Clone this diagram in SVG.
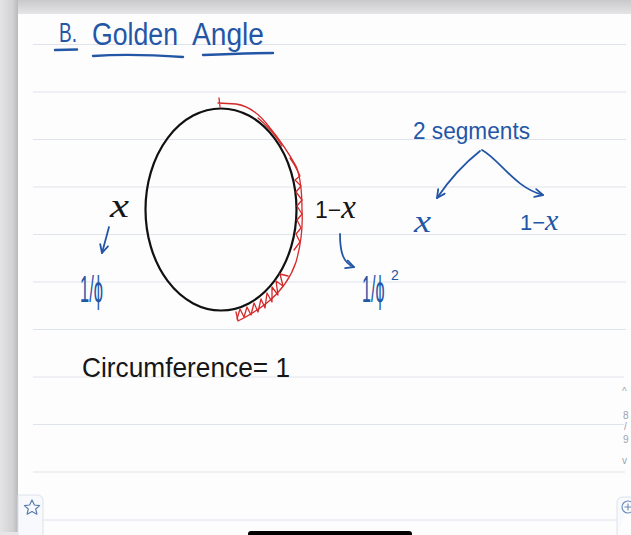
<svg xmlns="http://www.w3.org/2000/svg" width="631" height="535" viewBox="0 0 631 535">
  <defs>
    <linearGradient id="topShade" x1="0" y1="0" x2="0" y2="1">
      <stop offset="0" stop-color="#c9c9cb"/>
      <stop offset="1" stop-color="#e9e9eb"/>
    </linearGradient>
    <linearGradient id="leftShade" x1="0" y1="0" x2="1" y2="0">
      <stop offset="0" stop-color="#e4e4e6"/>
      <stop offset="0.7" stop-color="#d2d2d4"/>
      <stop offset="1" stop-color="#b9b9bc"/>
    </linearGradient>
    <marker id="ah" viewBox="0 0 10 10" refX="9" refY="5" markerWidth="10" markerHeight="10" markerUnits="userSpaceOnUse" orient="auto">
      <path d="M1,1 L9,5 L1,9" fill="none" stroke="#2456a6" stroke-width="1.8" stroke-linecap="round" stroke-linejoin="round"/>
    </marker>
  </defs>
  <style>
    .rule { stroke: #dfe3ea; stroke-width: 1.2; }
    .ink-blue { fill: #2456a6; font-family: "Liberation Sans", "DejaVu Sans", sans-serif; }
    .ink-black { fill: #161616; font-family: "Liberation Sans", "DejaVu Sans", sans-serif; }
    .mathx { font-family: "Liberation Serif", "DejaVu Serif", serif; font-style: italic; }
    .uline { stroke: #2456a6; stroke-width: 2.4; fill: none; stroke-linecap: round; }
    .conn { stroke: #2456a6; stroke-width: 1.8; fill: none; stroke-linecap: round; marker-end: url(#ah); }
    .red { stroke: #d52a2a; stroke-width: 1.3; fill: none; stroke-linejoin: round; stroke-linecap: round; }
    .ui { fill: #f7f9fc; stroke: #dde2ea; stroke-width: 1; }
    .uitext { fill: #9aa3b0; font-family: "Liberation Sans", sans-serif; font-size: 10px; }
  </style>

  <!-- background & page -->
  <rect x="0" y="0" width="631" height="535" fill="#e6e6e8"/>
  <rect x="0" y="0" width="631" height="16" fill="url(#topShade)"/>
  <rect x="0" y="0" width="18" height="532" fill="url(#leftShade)"/>
  <rect x="18" y="14" width="613" height="521" fill="#fdfdfe"/>

  <!-- ruled lines -->
  <g id="rules">
    <line class="rule" x1="33" y1="44.5" x2="626" y2="44.5"/>
    <line class="rule" x1="33" y1="92" x2="626" y2="92"/>
    <line class="rule" x1="33" y1="139.5" x2="626" y2="139.5"/>
    <line class="rule" x1="33" y1="187" x2="626" y2="187"/>
    <line class="rule" x1="33" y1="234.5" x2="626" y2="234.5"/>
    <line class="rule" x1="33" y1="282" x2="626" y2="282"/>
    <line class="rule" x1="33" y1="329.5" x2="626" y2="329.5"/>
    <line class="rule" x1="33" y1="377" x2="624" y2="377"/>
    <line class="rule" x1="33" y1="424.5" x2="624" y2="424.5"/>
    <line class="rule" x1="33" y1="472" x2="625" y2="472"/>
  </g>

  <!-- title -->
  <g id="title">
    <text class="ink-blue" x="59" y="42" font-size="28" textLength="18" lengthAdjust="spacingAndGlyphs">B.</text>
    <text class="ink-blue" x="92" y="45" font-size="31" textLength="86" lengthAdjust="spacingAndGlyphs">Golden</text>
    <text class="ink-blue" x="192" y="45" font-size="31" textLength="72" lengthAdjust="spacingAndGlyphs">Angle</text>
    <path class="uline" d="M55,50 L77,49.5"/>
    <path class="uline" d="M93,56 C120,54 155,55 183,57"/>
    <path class="uline" d="M203,55 C225,54 250,53 273,53"/>
  </g>

  <!-- circle with red arc -->
  <g id="circle">
    <ellipse cx="221" cy="209.5" rx="75.5" ry="101" fill="none" stroke="#111" stroke-width="2.2"/>
    <path class="red" d="M219,98 L220,107 M218,103 L236,104 C250,106 262,117 270,128 C280,140 288,152 296,166 C301,178 302,195 302,210 C303,228 300,248 296,262 C290,280 280,292 268,302 C258,310 248,316 238,321 L236,312"/>
    <path class="red" d="M258,118 C268,126 276,136 282,146 M290,158 C296,166 298,172 300,176 L295,180 L301,186 L296,192 L302,200 L297,206 L302,214 L297,220 L301,228 L296,234 L300,242 L294,250"/>
    <path class="red" d="M237,319 L240,309 L244,317 L247,307 L251,315 L254,303 L258,312 L261,299 L265,308 L267,293 L272,302 L272,287 L278,295 L276,281 L283,286 L280,274 L288,276"/>
  </g>

  <!-- labels -->
  <g id="label-x-left">
    <text class="ink-black mathx" x="110" y="217" font-size="34" textLength="19" lengthAdjust="spacingAndGlyphs">x</text>
  </g>
  <g id="label-inv-phi">
    <text class="ink-blue" x="80" y="302" font-size="36" textLength="23" lengthAdjust="spacingAndGlyphs">1/ϕ</text>
  </g>
  <g id="label-1mx-black">
    <text class="ink-black" x="315" y="218" font-size="23">1−<tspan class="mathx" font-size="33">x</tspan></text>
  </g>
  <g id="label-inv-phi2">
    <text class="ink-blue" transform="translate(362,302) scale(0.45,1)" x="0" y="0" font-size="36">1/ϕ</text>
    <text class="ink-blue" x="391" y="280" font-size="14">2</text>
  </g>
  <g id="label-segments">
    <text class="ink-blue" x="413" y="139" font-size="24" textLength="117" lengthAdjust="spacingAndGlyphs">2 segments</text>
  </g>
  <g id="label-x-blue">
    <text class="ink-blue mathx" x="414" y="232" font-size="32" textLength="17" lengthAdjust="spacingAndGlyphs">x</text>
  </g>
  <g id="label-1mx-blue">
    <text class="ink-blue" x="520" y="230" font-size="22">1−<tspan class="mathx" font-size="30">x</tspan></text>
  </g>
  <g id="label-circumference">
    <text class="ink-black" x="82" y="377" font-size="28" textLength="208" lengthAdjust="spacingAndGlyphs">Circumference= 1</text>
  </g>

  <!-- connectors -->
  <g id="connectors">
    <path class="conn" d="M109,227 L102,253"/>
    <path class="conn" d="M340,234 C340,252 343,263 354,267"/>
    <path class="conn" d="M480,151 Q456,170 437,198"/>
    <path class="conn" d="M482,150 C500,160 515,188 543,195"/>
  </g>

  <!-- app UI -->
  <g id="ui">
    <text class="uitext" x="622" y="395">^</text>
    <text class="uitext" x="623" y="419">8</text>
    <text class="uitext" x="624" y="430">/</text>
    <text class="uitext" x="623" y="443">9</text>
    <text class="uitext" x="622" y="464">v</text>
    <line x1="43" y1="520" x2="617" y2="520" stroke="#dde2ea" stroke-width="1"/>
    <path class="ui" d="M18,535 L18,495 L37,495 Q43,495 43,501 L43,535"/>
    <path class="ui" d="M631,497 L623,497 Q617,497 617,503 L617,535"/>
    <path d="M32,500 L34.4,505 L39.6,505.6 L35.7,509 L36.9,514.2 L32,511.5 L27.1,514.2 L28.3,509 L24.4,505.6 L29.6,505 Z" fill="none" stroke="#5a7fb0" stroke-width="1.2" stroke-linejoin="round"/>
    <circle cx="628" cy="507" r="6" fill="none" stroke="#6a8ab5" stroke-width="1.1"/>
    <path d="M628,503.5 L628,510.5 M624.5,507 L631,507" stroke="#6a8ab5" stroke-width="1.1"/>
    <rect x="248" y="531" width="164" height="6" rx="3" fill="#000"/>
  </g>
</svg>
